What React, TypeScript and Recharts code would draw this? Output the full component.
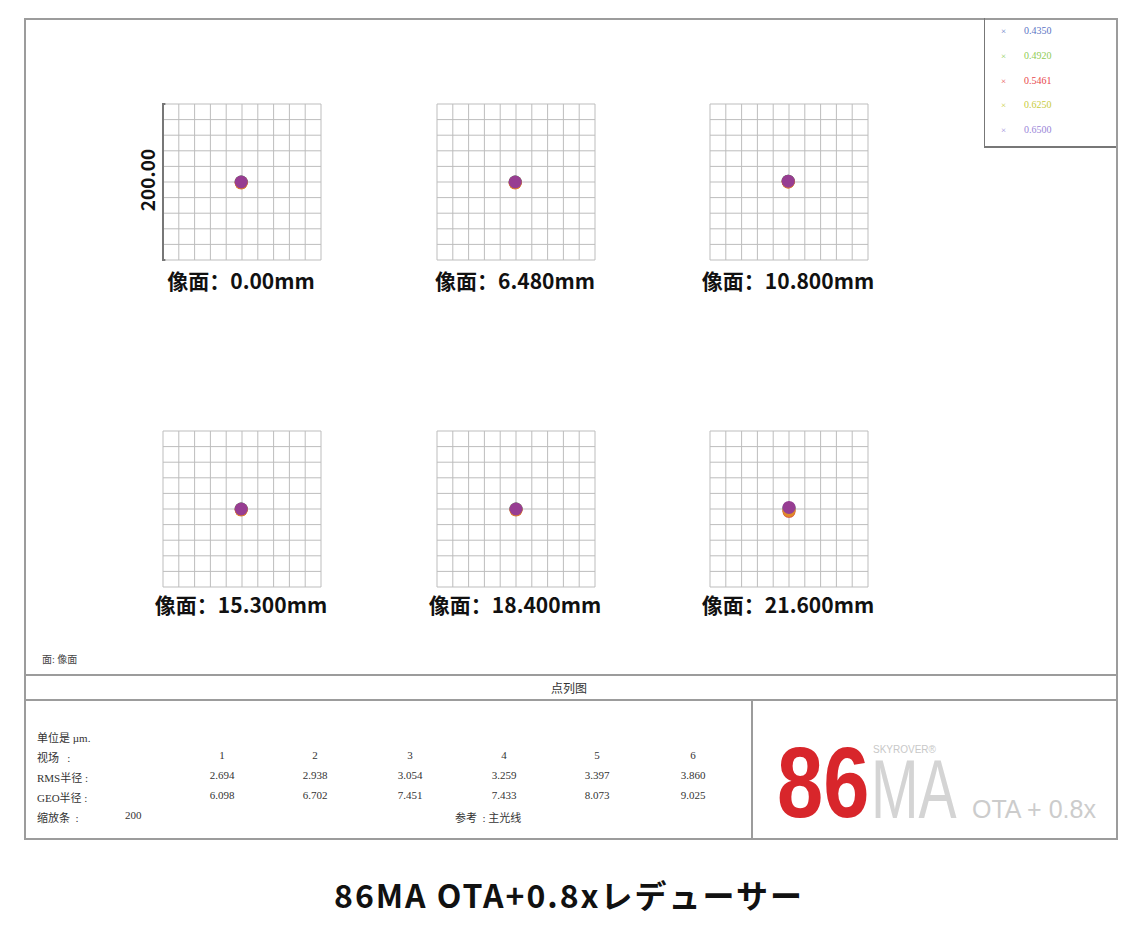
import { CartesianGrid, ReferenceLine, Scatter, ScatterChart, XAxis, YAxis } from "recharts";

const fieldLabels = ["0.00mm", "6.480mm", "10.800mm", "15.300mm", "18.400mm", "21.600mm"];
const wavelengths = ["0.4350", "0.4920", "0.5461", "0.6250", "0.6500"];
const waveColors = ["#4a63b5", "#7cc13e", "#d8432f", "#e08a2a", "#973d92"];
const legendColors = ["#5b74c4", "#8fcc55", "#e8484b", "#c8cc3c", "#9a86d8"];
const gridTicks = [-100, -80, -60, -40, -20, 0, 20, 40, 60, 80, 100];

// spot centroids in µm, one entry per field
const spotBlue = [
  { x: -1, y: 0 }, { x: -1, y: 0 }, { x: -1, y: 1 }, { x: -1, y: 0 }, { x: 0, y: 0 }, { x: 0, y: 1 },
];
const spotGreen = [
  { x: -1, y: 0 }, { x: -1, y: 0 }, { x: -1, y: 1 }, { x: -1, y: 0 }, { x: 0, y: 0 }, { x: 0, y: 0 },
];
const spotRed = [
  { x: -1, y: -1 }, { x: -1, y: -1 }, { x: -1, y: 0 }, { x: -1, y: -1 }, { x: 0, y: -1 }, { x: 0, y: -3 },
];
const spotYellow = [
  { x: -1, y: -1 }, { x: -1, y: -1 }, { x: -1, y: 0 }, { x: -1, y: -1 }, { x: 0, y: -1 }, { x: 0, y: -2 },
];
const spotPurple = [
  { x: -1, y: 0 }, { x: -1, y: 0 }, { x: -1, y: 1 }, { x: -1, y: 0 }, { x: 0, y: 0 }, { x: 0, y: 2 },
];
const spots = [spotBlue, spotGreen, spotRed, spotYellow, spotPurple];

const fieldNumbers = ["1", "2", "3", "4", "5", "6"];
const rmsRadius = ["2.694", "2.938", "3.054", "3.259", "3.397", "3.860"];
const geoRadius = ["6.098", "6.702", "7.451", "7.433", "8.073", "9.025"];

const colLeft = [163, 437, 710];
const rowTop = [104, 431];
const labelTop = [266, 590];
const PW = 158;
const PH = 156;

const cjkBold = '"Noto Sans CJK SC", "Noto Sans", sans-serif';
const serif = '"Liberation Serif", "Noto Sans CJK SC", serif';
const sans = '"Liberation Sans", sans-serif';

// grid lines at the 20 µm ticks, placed inside the plot area
const gridH = ({ offset }: any) => gridTicks.map((t) => offset.top + ((100 - t) / 200) * offset.height);
const gridV = ({ offset }: any) => gridTicks.map((t) => offset.left + ((t + 100) / 200) * offset.width);

function SpotPanel({ index }: { index: number }) {
  const left = colLeft[index % 3];
  const top = rowTop[Math.floor(index / 3)];
  return (
    <div style={{ position: "absolute", left: left - 1, top: top - 1 }}>
      <ScatterChart width={PW + 2} height={PH + 2} margin={{ top: 1, right: 1, bottom: 1, left: 1 }}>
        <CartesianGrid
          stroke="#bdbdbd"
          strokeWidth={1}
          horizontalCoordinatesGenerator={gridH}
          verticalCoordinatesGenerator={gridV}
        />
        <XAxis type="number" dataKey="x" domain={[-100, 100]} ticks={gridTicks} height={0} tick={false} axisLine={false} tickLine={false} />
        <YAxis type="number" dataKey="y" domain={[-100, 100]} ticks={gridTicks} width={0} tick={false} axisLine={false} tickLine={false} />
        {index === 0 && <ReferenceLine x={-100} stroke="#777" strokeWidth={2} />}
        {index === 0 && (
          <ReferenceLine segment={[{ x: -103, y: 100 }, { x: -97, y: 100 }]} stroke="#777" strokeWidth={2} ifOverflow="visible" />
        )}
        {index === 0 && (
          <ReferenceLine segment={[{ x: -103, y: -100 }, { x: -97, y: -100 }]} stroke="#777" strokeWidth={2} ifOverflow="visible" />
        )}
        {spots.map((s, w) => (
          <Scatter
            key={w}
            name={wavelengths[w]}
            data={[s[index]]}
            fill={waveColors[w]}
            isAnimationActive={false}
            shape={(p: any) => <circle cx={p.cx} cy={p.cy} r={6.5} fill={waveColors[w]} />}
          />
        ))}
      </ScatterChart>
      <div
        style={{
          position: "absolute",
          left: -40,
          width: PW + 80,
          top: labelTop[Math.floor(index / 3)] - top + 1,
          textAlign: "center",
          fontFamily: cjkBold,
          fontWeight: 700,
          fontSize: 21,
          color: "#111",
          lineHeight: "28px",
          whiteSpace: "nowrap",
        }}
      >
        像面：{fieldLabels[index]}
      </div>
    </div>
  );
}

const cellStyle = { position: "absolute" as const, fontFamily: serif, fontSize: 11, color: "#333", whiteSpace: "nowrap" as const };

export default function App() {
  const valueX = [222, 315, 410, 504, 597, 693];
  return (
    <div style={{ position: "absolute", left: 0, top: 0, width: 1138, height: 930, background: "#fff" }}>
      {/* outer frame */}
      <div style={{ position: "absolute", left: 24, top: 18, width: 1090, height: 818, border: "2px solid #9c9c9c" }} />
      <div style={{ position: "absolute", left: 24, top: 674, width: 1092, height: 2, background: "#9c9c9c" }} />
      <div style={{ position: "absolute", left: 24, top: 699, width: 1092, height: 2, background: "#9c9c9c" }} />
      <div style={{ position: "absolute", left: 751, top: 700, width: 2, height: 138, background: "#9c9c9c" }} />
      {/* legend box */}
      <div style={{ position: "absolute", left: 984, top: 18, width: 131, height: 128, borderLeft: "1px solid #777", borderBottom: "2px solid #777" }} />
      {wavelengths.map((w, i) => (
        <div key={w}>
          <div style={{ ...cellStyle, left: 1001, top: 26 + i * 24.8, fontSize: 9, color: legendColors[i] }}>×</div>
          <div style={{ ...cellStyle, left: 1024, top: 25 + i * 24.8, fontSize: 10, color: legendColors[i] }}>{w}</div>
        </div>
      ))}
      {[0, 1, 2, 3, 4, 5].map((i) => (
        <SpotPanel key={i} index={i} />
      ))}
      <div
        style={{
          position: "absolute",
          left: 147 - 40,
          top: 180 - 14,
          width: 80,
          height: 28,
          transform: "rotate(-90deg)",
          textAlign: "center",
          fontFamily: cjkBold,
          fontWeight: 700,
          fontSize: 19,
          lineHeight: "28px",
          color: "#111",
        }}
      >
        200.00
      </div>
      <div style={{ ...cellStyle, left: 42, top: 651, fontSize: 10, color: "#444" }}>面: 像面</div>
      <div style={{ ...cellStyle, left: 0, width: 1138, top: 679, textAlign: "center", fontSize: 12 }}>点列图</div>
      {/* data table */}
      <div style={{ ...cellStyle, left: 37, top: 729 }}>单位是 µm.</div>
      <div style={{ ...cellStyle, left: 37, top: 749 }}>视场&nbsp;&nbsp;&nbsp;:</div>
      <div style={{ ...cellStyle, left: 37, top: 769 }}>RMS半径 :</div>
      <div style={{ ...cellStyle, left: 37, top: 789 }}>GEO半径 :</div>
      <div style={{ ...cellStyle, left: 37, top: 809 }}>缩放条&nbsp;&nbsp;:</div>
      <div style={{ ...cellStyle, left: 125, top: 809 }}>200</div>
      <div style={{ ...cellStyle, left: 455, top: 809 }}>参考&nbsp;&nbsp;: 主光线</div>
      {valueX.map((x, i) => (
        <div key={i}>
          <div style={{ ...cellStyle, left: x - 30, width: 60, textAlign: "center", top: 749 }}>{fieldNumbers[i]}</div>
          <div style={{ ...cellStyle, left: x - 30, width: 60, textAlign: "center", top: 769 }}>{rmsRadius[i]}</div>
          <div style={{ ...cellStyle, left: x - 30, width: 60, textAlign: "center", top: 789 }}>{geoRadius[i]}</div>
        </div>
      ))}
      {/* logo */}
      <div
        style={{
          position: "absolute",
          left: 777,
          top: 732,
          fontFamily: sans,
          fontWeight: 700,
          fontSize: 100,
          lineHeight: "100px",
          color: "#d8262b",
          transform: "scaleX(0.83)",
          transformOrigin: "left top",
        }}
      >
        86
      </div>
      <div
        style={{
          position: "absolute",
          left: 871,
          top: 758,
          fontFamily: sans,
          fontSize: 84,
          lineHeight: "62px",
          color: "#d4d4d4",
          transform: "scaleX(0.68)",
          transformOrigin: "left top",
        }}
      >
        MA
      </div>
      <div style={{ position: "absolute", left: 873, top: 744, fontFamily: sans, fontSize: 10, lineHeight: "12px", color: "#c8c8c8" }}>
        SKYROVER®
      </div>
      <div style={{ position: "absolute", left: 972, top: 797, fontFamily: sans, fontSize: 25, lineHeight: "25px", color: "#cccccc" }}>
        OTA + 0.8x
      </div>
      {/* caption */}
      <div
        style={{
          position: "absolute",
          left: 0,
          width: 1138,
          top: 874,
          textAlign: "center",
          fontFamily: cjkBold,
          fontWeight: 700,
          fontSize: 32,
          letterSpacing: 2,
          lineHeight: "40px",
          color: "#111",
        }}
      >
        86MA OTA+0.8xレデューサー
      </div>
    </div>
  );
}
